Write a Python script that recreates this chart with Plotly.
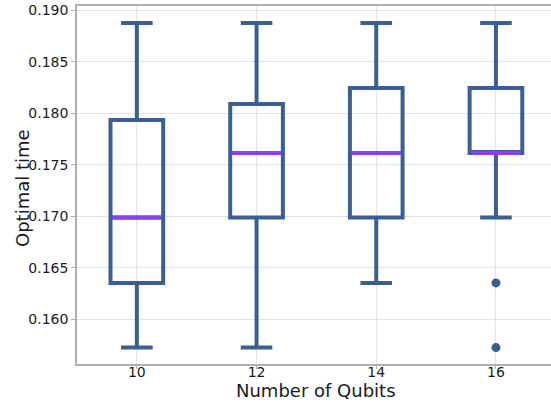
import plotly.graph_objects as go

categories = [10, 12, 14, 16]
lower_whisker = [0.15728, 0.15728, 0.16355, 0.16989]
q1 = [0.16355, 0.16989, 0.16989, 0.17613]
median = [0.16989, 0.17613, 0.17613, 0.17613]
q3 = [0.17933, 0.18088, 0.18243, 0.18243]
upper_whisker = [0.18874, 0.18874, 0.18874, 0.18874]
outlier_x = [16, 16]
outlier_y = [0.16355, 0.15728]
y_ticks = [0.160, 0.165, 0.170, 0.175, 0.180, 0.185, 0.190]

BLUE = "#3a5f95"
PURPLE = "#8a3ffc"
TEXT = "#1a1a1a"
BOX_W = 0.88

fig = go.Figure()
fig.add_trace(go.Box(
    x=categories, q1=q1, median=median, q3=q3,
    lowerfence=lower_whisker, upperfence=upper_whisker,
    boxpoints=False, width=BOX_W, whiskerwidth=0.6,
    line=dict(color=BLUE, width=4), fillcolor="rgba(0,0,0,0)",
    showlegend=False, hoverinfo="skip",
))

mx, my = [], []
for c, m in zip(categories, median):
    mx += [c - BOX_W / 2 + 0.03, c + BOX_W / 2 - 0.03, None]
    my += [m, m, None]
fig.add_trace(go.Scatter(x=mx, y=my, mode="lines",
                         line=dict(color=PURPLE, width=4),
                         showlegend=False, hoverinfo="skip"))
fig.add_trace(go.Scatter(x=outlier_x, y=outlier_y, mode="markers",
                         marker=dict(color=BLUE, size=9),
                         showlegend=False, hoverinfo="skip"))

fig.update_layout(
    width=551, height=403,
    margin=dict(l=77, r=0, t=6, b=39, autoexpand=False),
    paper_bgcolor="white", plot_bgcolor="white",
    font=dict(family="DejaVu Sans", size=14, color=TEXT),
    annotations=[
        dict(text="Number of Qubits", xref="paper", yref="paper", x=0.5, y=0,
             xshift=2, yshift=-26, xanchor="center", yanchor="middle",
             showarrow=False, font=dict(size=18, color=TEXT)),
        dict(text="Optimal time", xref="paper", yref="paper", x=0, y=0.5,
             xshift=-55, yshift=-3, xanchor="center", yanchor="middle",
             textangle=-90, showarrow=False, font=dict(size=18, color=TEXT)),
    ],
)
fig.update_xaxes(
    range=[9.0, 16.92], tickvals=categories, ticktext=[str(c) for c in categories],
    showgrid=True, gridcolor="#e3e3e3", gridwidth=1,
    showline=True, linecolor="#b0b0b0", linewidth=1.5, mirror=True,
    ticks="outside", ticklen=3, tickcolor="#b0b0b0",
    ticklabelstandoff=-9,
    zeroline=False, automargin=False,
)
fig.update_yaxes(
    range=[0.15569, 0.19039], tickvals=y_ticks, tickformat=".3f",
    showgrid=True, gridcolor="#e3e3e3", gridwidth=1,
    showline=True, linecolor="#b0b0b0", linewidth=1.5, mirror=False,
    ticks="outside", ticklen=4, tickcolor="#b0b0b0",
    zeroline=False, automargin=False,
)

fig.write_html("out.html", config={"displayModeBar": False})
with open("out.html", "r", encoding="utf-8") as f:
    html = f.read()
html = html.replace("<body>", '<body style="margin:0;padding:0;overflow:hidden">', 1)
with open("out.html", "w", encoding="utf-8") as f:
    f.write(html)
